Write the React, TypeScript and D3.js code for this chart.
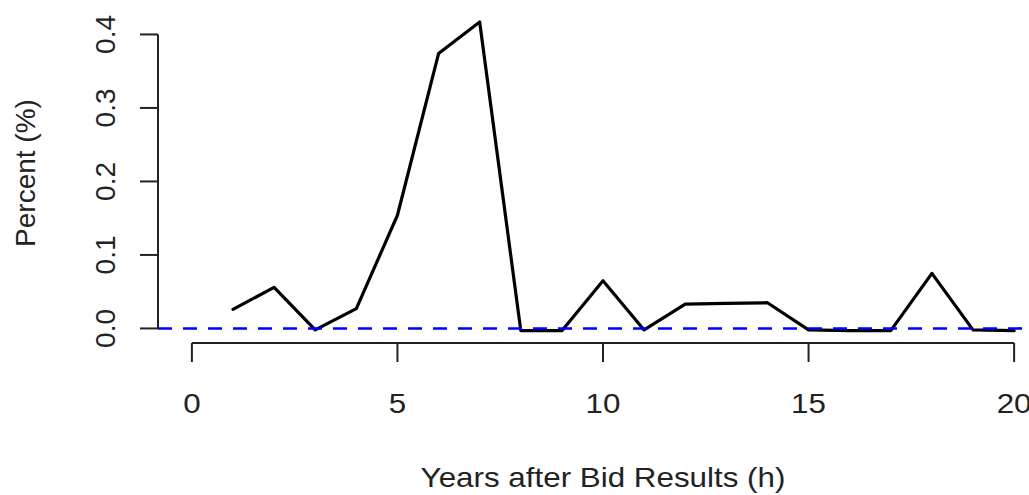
import React from "react";
import * as d3 from "d3";

const YEARS = [1, 2, 3, 4, 5, 6, 7, 8, 9, 10, 11, 12, 13, 14, 15, 16, 17, 18, 19, 20];
const PERCENT = [
  0.026, 0.056, -0.002, 0.027, 0.154, 0.374, 0.417, -0.003, -0.003, 0.065,
  -0.002, 0.033, 0.034, 0.035, -0.002, -0.003, -0.003, 0.075, -0.002, -0.003,
];
const X_TICKS = [0, 5, 10, 15, 20];
const Y_TICKS = [0, 0.1, 0.2, 0.3, 0.4];
const X_TITLE = "Years after Bid Results (h)";
const Y_TITLE = "Percent (%)";

const W = 1029;
const H = 495;
const FONT = "'Liberation Sans', Arial, Helvetica, sans-serif";
const FS = 28;
const STRETCH = 1.12; // source picture is a bit wider than tall

export default function App() {
  // R-style 4% padding around the data range
  const x = d3.scaleLinear().domain([-0.8, 20.8]).range([159, 1047]);
  const yMin = d3.min(PERCENT) as number;
  const yMax = d3.max(PERCENT) as number;
  const pad = (yMax - yMin) * 0.04;
  const y = d3.scaleLinear().domain([yMin - pad, yMax + pad]).range([343, 9.6]);

  const line = d3
    .line<number>()
    .x((_, i) => x(YEARS[i]))
    .y((d) => y(d));

  const left = x.range()[0] - 1;
  const bottom = y.range()[0];
  const axisColor = "#222";

  return (
    <div style={{ position: "absolute", left: 0, top: 0, width: W, height: H, background: "#fff" }}>
      <svg width={W} height={H} style={{ display: "block", fontFamily: FONT }}>
        {/* data line */}
        <path
          d={line(PERCENT) ?? ""}
          fill="none"
          stroke="#000"
          strokeWidth={3.2}
          strokeLinejoin="round"
          strokeLinecap="round"
        />

        {/* zero reference */}
        <line
          x1={left}
          x2={W}
          y1={y(0)}
          y2={y(0)}
          stroke="#0000ff"
          strokeWidth={2.6}
          strokeDasharray="14,11"
        />

        {/* x axis */}
        <line x1={x(0)} x2={x(20)} y1={bottom} y2={bottom} stroke={axisColor} strokeWidth={2} />
        {X_TICKS.map((t) => (
          <g key={t}>
            <line x1={x(t)} x2={x(t)} y1={bottom} y2={bottom + 19} stroke={axisColor} strokeWidth={2} />
            <text
              transform={`translate(${x(t)},413) scale(${STRETCH},1)`}
              textAnchor="middle"
              fontSize={FS}
              fill="#222"
            >
              {t}
            </text>
          </g>
        ))}
        <text
          transform={`translate(${(x.range()[0] + x.range()[1]) / 2},487) scale(${STRETCH},1)`}
          textAnchor="middle"
          fontSize={FS}
          fill="#222"
        >
          {X_TITLE}
        </text>

        {/* y axis */}
        <line x1={left} x2={left} y1={y(0)} y2={y(0.4)} stroke={axisColor} strokeWidth={2} />
        {Y_TICKS.map((t) => (
          <g key={t}>
            <line x1={left - 18} x2={left} y1={y(t)} y2={y(t)} stroke={axisColor} strokeWidth={2} />
            <text
              transform={`translate(115,${y(t)}) rotate(-90)`}
              textAnchor="middle"
              fontSize={FS}
              fill="#222"
            >
              {t.toFixed(1)}
            </text>
          </g>
        ))}
        <text
          transform={`translate(35,173) rotate(-90)`}
          textAnchor="middle"
          fontSize={FS}
          fill="#222"
        >
          {Y_TITLE}
        </text>
      </svg>
    </div>
  );
}
